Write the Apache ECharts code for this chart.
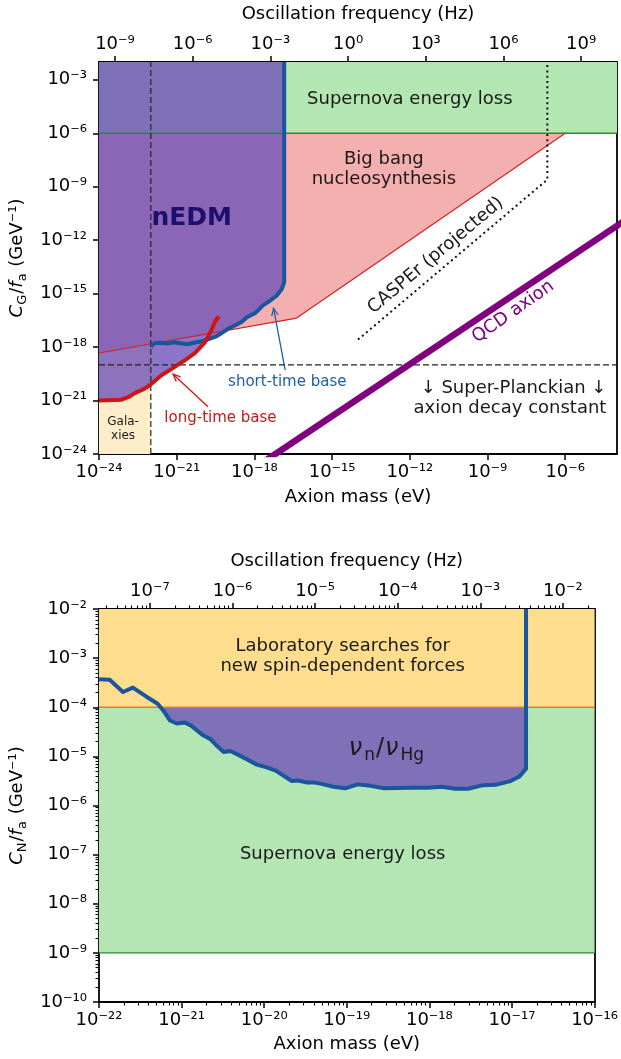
<!DOCTYPE html>
<html><head><meta charset="utf-8">
<script src="https://cdn.jsdelivr.net/npm/echarts@6/dist/echarts.min.js"></script>
<style>html,body{margin:0;padding:0;background:#fff}#c{width:621px;height:1059px}</style>
</head><body><div id="c"></div>
<script>
// ================= DATA (all values are log10) =================
const EV_TO_HZ_LOG = 14.38345; // log10(2.417989e14 Hz per eV)

// ---- top panel: C_G/f_a (GeV^-1) vs axion mass (eV)
const topMassRange = [-24, -4];
const topCouplingRange = [-24, -2];
const topMassTicks = [-24, -21, -18, -15, -12, -9, -6];
const topCouplingTicks = [-24, -21, -18, -15, -12, -9, -6, -3];
const topFreqTicks = [-9, -6, -3, 0, 3, 6, 9];

const shortTimeMass = [-22.0, -21.93, -21.85, -21.6, -21.35, -21.1, -20.85, -20.57, -20.3, -20.04, -19.85, -19.66, -19.45, -19.27, -19.05, -18.88, -18.7, -18.5, -18.29, -17.98, -17.8, -17.67, -17.4, -17.13, -16.95, -16.85, -16.85];
const shortTimeCoupling = [-18.0, -17.85, -17.79, -17.76, -17.8, -17.73, -17.78, -17.84, -17.74, -17.67, -17.6, -17.5, -17.38, -17.22, -17.0, -16.87, -16.75, -16.59, -16.33, -16.1, -15.85, -15.66, -15.4, -15.1, -14.75, -14.37, -2];
const longTimeMass = [-24, -23.13, -22.85, -22.62, -22.3, -22.04, -21.59, -21.15, -20.69, -20.3, -19.91, -19.66, -19.53, -19.37];
const longTimeCoupling = [-21.0, -20.95, -20.8, -20.58, -20.38, -20.14, -19.58, -19.18, -18.74, -18.34, -17.73, -17.06, -16.59, -16.27];
const nedmCrossMass = -19.9;

const bbnMass = [-24, -16.37, -6];
const bbnCoupling = [-18.33, -16.37, -6];
const supernovaTopBound = -6;
const galaxiesMassBound = -22;
const galaxiesCouplingBound = -21;
const superPlanckBound = -19;
const casperMass = [-14.0, -6.69, -6.69];
const casperCoupling = [-17.58, -8.6, -2];
const qcdMass = [-17.6, -3.6];
const qcdCoupling = [-24.4, -10.8];

// ---- bottom panel: C_N/f_a (GeV^-1) vs axion mass (eV)
const botMassRange = [-22, -16];
const botCouplingRange = [-10, -2];
const botMassTicks = [-22, -21, -20, -19, -18, -17, -16];
const botCouplingTicks = [-10, -9, -8, -7, -6, -5, -4, -3, -2];
const botFreqTicks = [-7, -6, -5, -4, -3, -2];
const labBound = -4;
const supernovaBotBound = -9;
const ratioMass = [-22.0, -21.87, -21.71, -21.59, -21.43, -21.29, -21.22, -21.14, -21.06, -20.96, -20.88, -20.75, -20.65, -20.57, -20.49, -20.41, -20.3, -20.2, -20.1, -19.98, -19.86, -19.75, -19.67, -19.59, -19.49, -19.4, -19.28, -19.16, -19.02, -18.87, -18.71, -18.55, -18.22, -18.02, -17.85, -17.69, -17.53, -17.36, -17.2, -17.03, -16.91, -16.83, -16.83];
const ratioCoupling = [-3.43, -3.44, -3.69, -3.6, -3.78, -3.93, -4.07, -4.27, -4.33, -4.31, -4.38, -4.56, -4.65, -4.79, -4.91, -4.89, -4.98, -5.07, -5.16, -5.22, -5.29, -5.41, -5.5, -5.49, -5.53, -5.53, -5.57, -5.62, -5.65, -5.57, -5.6, -5.65, -5.64, -5.64, -5.62, -5.66, -5.66, -5.59, -5.58, -5.51, -5.41, -5.25, -2];

// ================= STYLE =================
const FONT = 'DejaVu Sans';
const C = {
  green: '#b3e6b3', greenEdge: '#2d8c2d', pink: '#f4afaf', redEdge: '#d42222',
  beige: '#fdedc9', purple: 'rgba(113,84,185,0.8)', blue: '#1b559e', red: '#cc1616',
  qcd: '#800080', lab: '#fedd8e', labEdge: '#f47a1a', text: '#1a1a1a', navy: '#1e0f6e'
};

function sup(v) {
  const m = {'-':'⁻','0':'⁰','1':'¹','2':'²','3':'³','4':'⁴','5':'⁵','6':'⁶','7':'⁷','8':'⁸','9':'⁹'};
  return '10' + String(Math.round(v)).split('').map(c => m[c]).join('');
}
function minorTicks(lo, hi) {
  const r = [];
  for (let d = Math.floor(lo) - 1; d <= Math.ceil(hi); d++)
    for (let k = 2; k <= 9; k++) { const v = d + Math.log10(k); if (v > lo + 1e-9 && v < hi - 1e-9) r.push(v); }
  return r;
}
const lineAx = {show: true, onZero: false, lineStyle: {color: '#000', width: 1.8}};
const nameStyle = {fontSize: 18, color: '#000', fontFamily: FONT};
function majorAxis(gi, pos, lo, hi, ticks, margin, extra) {
  return Object.assign({
    type: 'value', gridIndex: gi, position: pos, min: lo, max: hi,
    axisLine: lineAx, splitLine: {show: false},
    axisTick: {show: true, length: 6, lineStyle: {color: '#000', width: 1.5}, customValues: ticks},
    axisLabel: {show: true, color: '#000', fontSize: 18, fontFamily: FONT, margin: margin, formatter: sup, customValues: ticks}
  }, extra || {});
}
function minorAxis(gi, pos, lo, hi) {
  return {
    type: 'value', gridIndex: gi, position: pos, min: lo, max: hi,
    axisLine: {show: false, onZero: false}, splitLine: {show: false},
    axisTick: {show: true, length: 3.5, lineStyle: {color: '#000', width: 1.1}, customValues: minorTicks(lo, hi)},
    axisLabel: {show: false}
  };
}
function spineAxis(gi, lo, hi) {
  return {type: 'value', gridIndex: gi, position: 'right', min: lo, max: hi,
    axisLine: lineAx, axisTick: {show: false}, axisLabel: {show: false}, splitLine: {show: false}};
}
const yNameRich = {
  i: {fontSize: 18, fontFamily: FONT, fontStyle: 'italic', lineHeight: 24, color: '#000'},
  s: {fontSize: 13, fontFamily: FONT, lineHeight: 15, verticalAlign: 'bottom', color: '#000', padding: [0, 1, 0, 0]},
  n: {fontSize: 18, fontFamily: FONT, lineHeight: 24, color: '#000'}
};

// ================= SERIES HELPERS =================
function axes(gi) { return gi === 0 ? {xAxisIndex: 0, yAxisIndex: 0} : {xAxisIndex: 2, yAxisIndex: 2}; }
function polySeries(gi, pts, fill) {
  return Object.assign({
    type: 'custom', silent: true, clip: true, data: [pts[0]],
    renderItem: (p, api) => ({type: 'polygon', shape: {points: pts.map(q => api.coord(q))}, style: {fill: fill}})
  }, axes(gi));
}
function lineSeries(gi, xs, ys, color, width, type) {
  return Object.assign({
    type: 'line', silent: true, clip: true, showSymbol: false, symbol: 'none',
    data: xs.map((x, i) => [x, ys[i]]),
    lineStyle: {color: color, width: width, type: type || 'solid', cap: 'butt', join: 'round'}
  }, axes(gi));
}
function arrowSeries(gi, from, to, color) {
  return Object.assign({
    type: 'custom', silent: true, data: [from],
    renderItem: (p, api) => {
      const a = api.coord(from), b = api.coord(to);
      const ang = Math.atan2(b[1] - a[1], b[0] - a[0]), L = 8, w = 0.42;
      const h1 = [b[0] - L * Math.cos(ang - w), b[1] - L * Math.sin(ang - w)];
      const h2 = [b[0] - L * Math.cos(ang + w), b[1] - L * Math.sin(ang + w)];
      return {type: 'group', children: [
        {type: 'line', shape: {x1: a[0], y1: a[1], x2: b[0], y2: b[1]}, style: {stroke: color, lineWidth: 1.3}},
        {type: 'polyline', shape: {points: [h1, b, h2]}, style: {stroke: color, lineWidth: 1.3, fill: null}}
      ]};
    }
  }, axes(gi));
}
function textSeries(gi, items) {
  return Object.assign({
    type: 'custom', silent: true, data: items.map((t, i) => [t.x, t.y, i]),
    renderItem: (p, api) => {
      const t = items[api.value(2)];
      const c = api.coord([api.value(0), api.value(1)]);
      return {type: 'text', x: c[0], y: c[1], rotation: (t.rot || 0) * Math.PI / 180,
        style: {text: t.text, fill: t.color || C.text, fontSize: t.size || 18, fontFamily: FONT,
          fontWeight: t.weight || 'normal', align: t.align || 'center', verticalAlign: 'middle',
          lineHeight: t.lh, rich: t.rich}};
    }
  }, axes(gi));
}

// ================= BUILD SHAPES FROM DATA =================
const [tx0, tx1] = topMassRange, [ty0, ty1] = topCouplingRange;
const galaxiesStrip = [[tx0, ty0], [galaxiesMassBound, ty0], [galaxiesMassBound, ty1], [tx0, ty1]];
const snTopPoly = [[tx0, supernovaTopBound], [tx1, supernovaTopBound], [tx1, ty1], [tx0, ty1]];
const bbnPoly = bbnMass.map((m, i) => [m, bbnCoupling[i]]).concat([[tx0, supernovaTopBound]]);
const nedmPoly = [[tx0, ty1]];
for (let i = shortTimeMass.length - 1; i >= 0; i--) if (shortTimeMass[i] >= nedmCrossMass) nedmPoly.push([shortTimeMass[i], shortTimeCoupling[i]]);
for (let i = longTimeMass.length - 1; i >= 0; i--) if (longTimeMass[i] <= nedmCrossMass) nedmPoly.push([longTimeMass[i], longTimeCoupling[i]]);

const [bx0, bx1] = botMassRange, [by0, by1] = botCouplingRange;
const labPoly = [[bx0, labBound], [bx1, labBound], [bx1, by1], [bx0, by1]];
const snBotPoly = [[bx0, supernovaBotBound], [bx1, supernovaBotBound], [bx1, labBound], [bx0, labBound]];
const ratioPoly = ratioMass.map((m, i) => [m, Math.min(ratioCoupling[i], labBound)])
  .concat([[ratioMass[ratioMass.length - 1], labBound], [ratioMass[0], labBound]]);

const topTexts = [
  {x: -12.0, y: -4.1, text: 'Supernova energy loss'},
  {x: -13.0, y: -8.04, text: 'Big bang\nnucleosynthesis', lh: 20},
  {x: -20.42, y: -10.79, text: 'nEDM', size: 25, weight: 'bold', color: C.navy},
  {x: -11.0, y: -12.86, text: 'CASPEr (projected)', rot: 40},
  {x: -8.01, y: -16.02, text: 'QCD axion', rot: 35, color: C.qcd},
  {x: -4.41, y: -20.88, text: '↓ Super-Planckian ↓\naxion decay constant', lh: 20, align: 'right'},
  {x: -16.73, y: -19.99, text: 'short-time base', size: 15, color: '#1f5fa8'},
  {x: -19.31, y: -22.0, text: 'long-time base', size: 15, color: C.red},
  {x: -23.07, y: -22.6, text: 'Gala-\nxies', size: 12, lh: 14.5}
];
const botTexts = [
  {x: -19.05, y: -2.97, text: 'Laboratory searches for\nnew spin-dependent forces', lh: 20},
  {x: -18.52, y: -4.85, text: '{v|ν}{s|n}{p|/}{v|ν}{s|Hg}', rich: {
    v: {fontSize: 24, fontFamily: FONT, fontStyle: 'italic', lineHeight: 30, color: C.navy},
    p: {fontSize: 24, fontFamily: FONT, lineHeight: 30, color: C.navy, padding: [0, 1, 0, 1]},
    s: {fontSize: 17, fontFamily: FONT, lineHeight: 20, verticalAlign: 'bottom', color: C.navy, padding: [0, 0, 0, 2]}}},
  {x: -19.05, y: -7.0, text: 'Supernova energy loss'}
];

const option = {
  animation: false,
  backgroundColor: '#fff',
  textStyle: {fontFamily: FONT},
  grid: [
    {left: 99, top: 62, width: 518, height: 392},
    {left: 99, top: 609, width: 497, height: 393}
  ],
  xAxis: [
    majorAxis(0, 'bottom', tx0, tx1, topMassTicks, 9, {name: 'Axion mass (eV)', nameLocation: 'middle', nameGap: 34, nameTextStyle: nameStyle}),
    majorAxis(0, 'top', tx0 + EV_TO_HZ_LOG, tx1 + EV_TO_HZ_LOG, topFreqTicks, 9, {name: 'Oscillation frequency (Hz)', nameLocation: 'middle', nameGap: 39, nameTextStyle: nameStyle}),
    majorAxis(1, 'bottom', bx0, bx1, botMassTicks, 9, {name: 'Axion mass (eV)', nameLocation: 'middle', nameGap: 33, nameTextStyle: nameStyle}),
    minorAxis(1, 'bottom', bx0, bx1),
    majorAxis(1, 'top', bx0 + EV_TO_HZ_LOG, bx1 + EV_TO_HZ_LOG, botFreqTicks, 9, {name: 'Oscillation frequency (Hz)', nameLocation: 'middle', nameGap: 39, nameTextStyle: nameStyle}),
    minorAxis(1, 'top', bx0 + EV_TO_HZ_LOG, bx1 + EV_TO_HZ_LOG)
  ],
  yAxis: [
    majorAxis(0, 'left', ty0, ty1, topCouplingTicks, 12, {name: '{i|C}{s|G}{n|/}{i|f}{s|a}{n| (GeV⁻¹)}', nameLocation: 'middle', nameRotate: 90, nameGap: 58, nameTextStyle: {rich: yNameRich}}),
    spineAxis(0, ty0, ty1),
    majorAxis(1, 'left', by0, by1, botCouplingTicks, 12, {name: '{i|C}{s|N}{n|/}{i|f}{s|a}{n| (GeV⁻¹)}', nameLocation: 'middle', nameRotate: 90, nameGap: 58, nameTextStyle: {rich: yNameRich}}),
    minorAxis(1, 'left', by0, by1),
    spineAxis(1, by0, by1)
  ],
  series: [
    // ---- top panel
    polySeries(0, galaxiesStrip, C.beige),
    polySeries(0, snTopPoly, C.green),
    lineSeries(0, [tx0, tx1], [supernovaTopBound, supernovaTopBound], C.greenEdge, 1.3),
    polySeries(0, bbnPoly, C.pink),
    lineSeries(0, bbnMass, bbnCoupling, C.redEdge, 1.2),
    lineSeries(0, [galaxiesMassBound, galaxiesMassBound], [ty0, ty1], '#222', 1.2, [6, 3]),
    lineSeries(0, [tx0, tx1], [superPlanckBound, superPlanckBound], '#222', 1.2, [6, 3]),
    polySeries(0, nedmPoly, C.purple),
    lineSeries(0, shortTimeMass, shortTimeCoupling, C.blue, 4),
    lineSeries(0, longTimeMass, longTimeCoupling, C.red, 4),
    lineSeries(0, casperMass, casperCoupling, '#111', 2, [2, 3.3]),
    lineSeries(0, qcdMass, qcdCoupling, C.qcd, 6.5),
    arrowSeries(0, [-16.81, -19.3], [-17.26, -15.83], '#1f5fa8'),
    arrowSeries(0, [-19.79, -21.35], [-21.14, -19.52], C.red),
    textSeries(0, topTexts),
    // ---- bottom panel
    polySeries(1, labPoly, C.lab),
    polySeries(1, snBotPoly, C.green),
    lineSeries(1, [bx0, bx1], [supernovaBotBound, supernovaBotBound], C.greenEdge, 1.3),
    polySeries(1, ratioPoly, C.purple),
    lineSeries(1, [bx0, bx1], [labBound, labBound], C.labEdge, 1.5),
    lineSeries(1, ratioMass, ratioCoupling, C.blue, 4),
    textSeries(1, botTexts)
  ]
};
const chart = echarts.init(document.getElementById('c'), null, {renderer: 'canvas'});
chart.setOption(option);
</script></body></html>
